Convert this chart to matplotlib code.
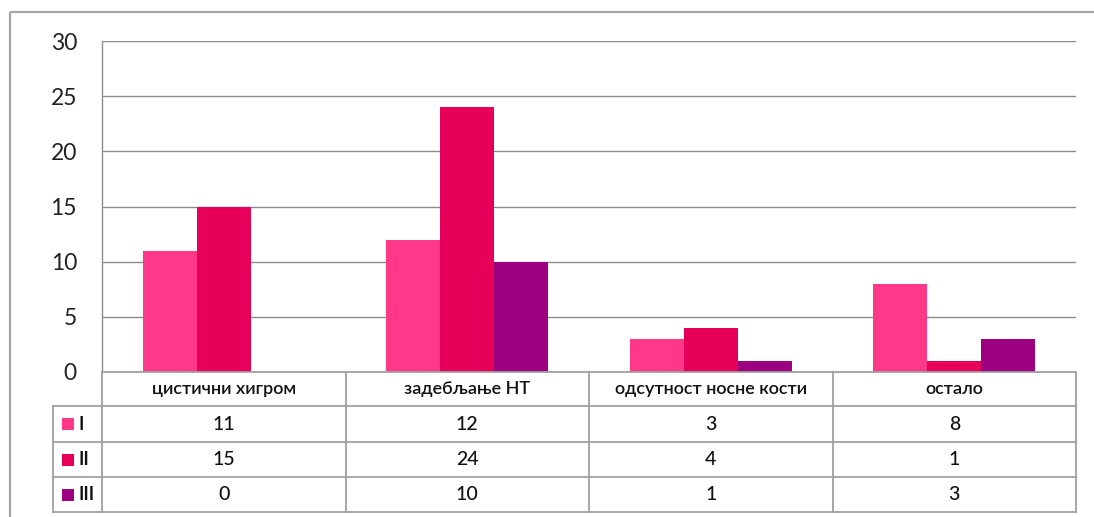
import numpy as np
import matplotlib
matplotlib.use("Agg")
import matplotlib.pyplot as plt
from matplotlib.patches import Rectangle

plt.rcParams['font.family'] = ['Lato', 'DejaVu Sans']

categories = ["цистични хигром", "задебљање НТ", "одсутност носне кости", "остало"]
series_names = ["I", "II", "III"]
values_I = [11, 12, 3, 8]
values_II = [15, 24, 4, 1]
values_III = [0, 10, 1, 3]
y_ticks = [0, 5, 10, 15, 20, 25, 30]

series = [values_I, values_II, values_III]
colors = ["#FF3889", "#E6005A", "#9C0080"]

W, H = 1094, 517
fig = plt.figure(figsize=(W / 100, H / 100), dpi=100)

# plot area in pixel terms
px_left, px_right, px_top, px_bottom = 102, 1076, 41, 372
ax = fig.add_axes([px_left / W, 1 - px_bottom / H,
                   (px_right - px_left) / W, (px_bottom - px_top) / H])

n = len(categories)
bar_w = 1 / 4.5
x = np.arange(n) + 0.5
for i, (vals, col) in enumerate(zip(series, colors)):
    ax.bar(x + (i - 1) * bar_w, vals, width=bar_w, color=col, zorder=3,
           linewidth=0)

ax.set_xlim(0, n)
ax.set_ylim(0, 30)
ax.set_yticks(y_ticks)
ax.set_yticklabels([str(t) for t in y_ticks], fontsize=16.5, color="#222222")
ax.tick_params(axis="y", length=0, pad=18)
ax.set_xticks([])
ax.yaxis.grid(True, color="#8C8C8C", linewidth=1.0, zorder=0)
for s in ["top", "right", "bottom"]:
    ax.spines[s].set_visible(False)
ax.spines["left"].set_color("#8C8C8C")
ax.spines["left"].set_linewidth(1.0)

# overlay in pixel coordinates for the frame and the data table
ov = fig.add_axes([0, 0, 1, 1], zorder=5)
ov.set_xlim(0, W)
ov.set_ylim(H, 0)
ov.axis("off")
ov.patch.set_alpha(0)

line_c = "#A0A0A0"
lw = 1.3

# outer chart frame
ov.add_patch(Rectangle((10, 12), W + 20, H + 20, fill=False,
                       edgecolor="#A6A6A6", linewidth=1.6))

col_edges = np.linspace(px_left, px_right, n + 1)
row_edges = [372, 406, 442, 477, 512]
legend_left = 53

# vertical lines of the table
for xe in col_edges:
    ov.plot([xe, xe], [row_edges[0], row_edges[-1]], color=line_c, lw=lw)
ov.plot([legend_left, legend_left], [row_edges[1], row_edges[-1]],
        color=line_c, lw=lw)
# horizontal lines
ov.plot([px_left, px_right], [row_edges[0], row_edges[0]], color=line_c, lw=lw)
for ye in row_edges[1:]:
    ov.plot([legend_left, px_right], [ye, ye], color=line_c, lw=lw)

# header row with category names
for j, cat in enumerate(categories):
    cx = (col_edges[j] + col_edges[j + 1]) / 2
    cy = (row_edges[0] + row_edges[1]) / 2
    ov.text(cx, cy, cat, ha="center", va="center", fontsize=13,
            fontweight="semibold", color="#111111")

# series rows
for i, (name, vals, col) in enumerate(zip(series_names, series, colors)):
    y0, y1 = row_edges[i + 1], row_edges[i + 2]
    cy = (y0 + y1) / 2
    ov.add_patch(Rectangle((62, cy - 6), 12, 12, facecolor=col,
                           edgecolor="none"))
    ov.text(78, cy, name, ha="left", va="center", fontsize=13,
            fontweight="bold", color="#111111")
    for j, v in enumerate(vals):
        cx = (col_edges[j] + col_edges[j + 1]) / 2
        ov.text(cx, cy, str(v), ha="center", va="center", fontsize=14,
                fontweight="medium", color="#111111")

fig.savefig("out.png", dpi=100, facecolor="white")
